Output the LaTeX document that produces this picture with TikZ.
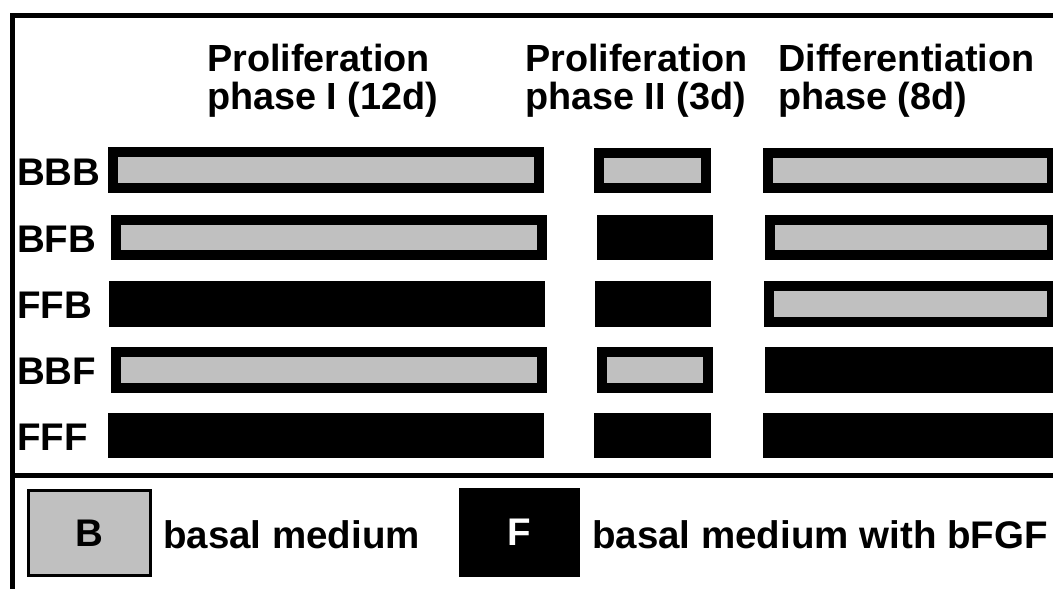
\documentclass[tikz,border=0pt]{standalone}
\usepackage{fontspec}
\setmainfont{Liberation Sans}
\definecolor{medgray}{RGB}{192,192,192}
\tikzset{
  frameline/.style={line width=5pt, draw=black},
  barF/.style={fill=black, draw=none, inner sep=0pt, outer sep=0pt, anchor=center},
  barB/.style={fill=medgray, draw=black, line width=10pt, inner sep=0pt, outer sep=0pt, anchor=center},
  lbl/.style={font=\fontsize{38.5}{40}\selectfont\bfseries, inner sep=0pt, anchor=base west},
  hdr/.style={font=\fontsize{37.8}{40}\selectfont\bfseries, inner sep=0pt, anchor=base west},
}
\newcommand\grayBar[5]{\node[barB, minimum width={#4-#2-10}, minimum height={#5-#3-10}] (#1) at ({(#2+#4)/2},{(#3+#5)/2}) {};}
\newcommand\blackBar[5]{\node[barF, minimum width={#4-#2}, minimum height={#5-#3}] (#1) at ({(#2+#4)/2},{(#3+#5)/2}) {};}
\begin{document}
\begin{tikzpicture}[x=1pt,y=-1pt]
\useasboundingbox (0,0) rectangle (1053,589);
\clip (0,0) rectangle (1053,589);
% frame
\coordinate (tl) at (10,15);
\coordinate (tr) at (1060,15);
\coordinate (lt) at (12.5,13);
\coordinate (lb) at (12.5,595);
\coordinate (dl) at (12.5,475.5);
\coordinate (dr) at (1060,475.5);
\draw[frameline] (tl) -- (tr);
\draw[frameline] (lt) -- (lb);
\draw[frameline] (dl) -- (dr);
% headers
\node[hdr] (h1a) at (207,71) {Proliferation};
\node[hdr] (h1b) at (207,109) {phase I (12d)};
\node[hdr] (h2a) at (525,71) {Proliferation};
\node[hdr] (h2b) at (525,109) {phase II (3d)};
\node[hdr] (h3a) at (778,71) {Differentiation};
\node[hdr] (h3b) at (778,109) {phase (8d)};
% row labels
\node[lbl] (r1) at (17,185) {BBB};
\node[lbl] (r2) at (17,252) {BFB};
\node[lbl] (r3) at (17,318) {FFB};
\node[lbl] (r4) at (17,384) {BBF};
\node[lbl] (r5) at (17,450) {FFF};
% row 1 BBB
\grayBar{b11}{108}{147}{544}{193}
\grayBar{b12}{594}{148}{711}{193}
\grayBar{b13}{763}{148}{1057}{193}
% row 2 BFB
\grayBar{b21}{111}{215}{547}{260}
\blackBar{b22}{597}{215}{713}{260}
\grayBar{b23}{765}{215}{1057}{260}
% row 3 FFB
\blackBar{b31}{109}{281}{545}{327}
\blackBar{b32}{595}{281}{711}{327}
\grayBar{b33}{764}{281}{1057}{327}
% row 4 BBF
\grayBar{b41}{111}{347}{547}{393}
\grayBar{b42}{597}{347}{713}{393}
\blackBar{b43}{765}{347}{1060}{393}
% row 5 FFF
\blackBar{b51}{108}{413}{544}{458}
\blackBar{b52}{594}{413}{711}{458}
\blackBar{b53}{763}{413}{1060}{458}
% legend
\node[draw=black, line width=3pt, fill=medgray, minimum width=122, minimum height=85, inner sep=0pt,
      font=\fontsize{38.5}{40}\selectfont\bfseries] (legB) at (89.5,533) {B};
\node[lbl] (legBt) at (163,548) {basal medium};
\node[fill=black, text=white, minimum width=121, minimum height=89, inner sep=0pt,
      font=\fontsize{38.5}{40}\selectfont\bfseries] (legF) at (519.5,532.5) {F};
\node[lbl] (legFt) at (592,548) {basal medium with bFGF};
\end{tikzpicture}
\end{document}
